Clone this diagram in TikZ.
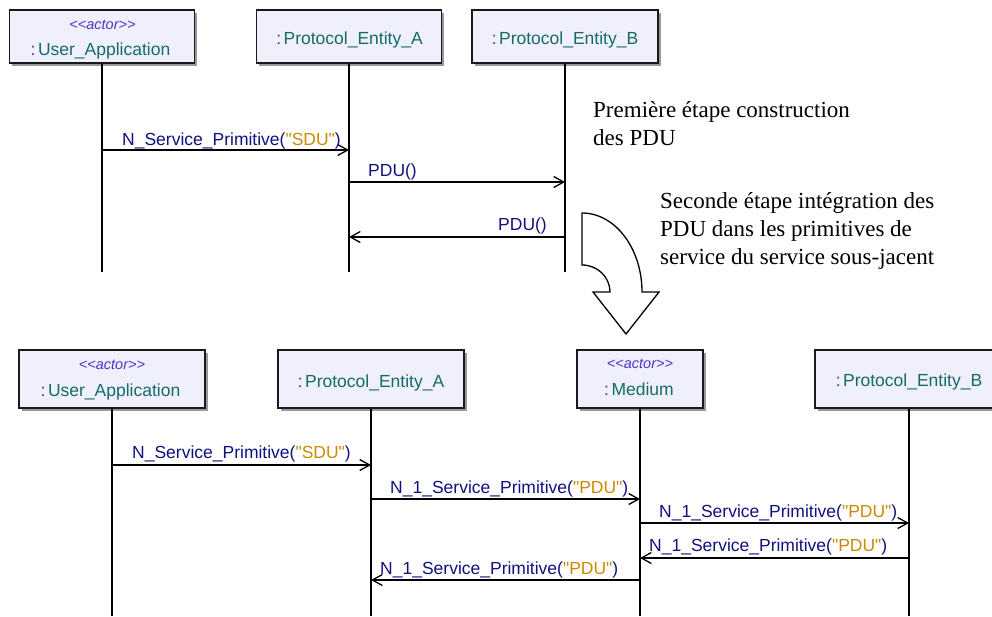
\documentclass[tikz,border=0pt]{standalone}
\usepackage{fontspec}
\setmainfont{Liberation Serif}
\newfontfamily\umlfont{Liberation Sans}
\usetikzlibrary{arrows.meta,shadows}

\definecolor{msgblue}{RGB}{16,16,128}
\definecolor{strgold}{RGB}{204,138,0}
\definecolor{nameteal}{RGB}{22,106,106}
\definecolor{colonpurple}{RGB}{80,40,180}
\definecolor{stereoblue}{RGB}{80,50,200}
\definecolor{boxfill}{RGB}{240,240,252}

% colon + instance name inside a lifeline head
\newcommand{\instname}[1]{{\color{colonpurple}:}\hspace{2.5pt}{\color{nameteal}#1}}
\newcommand{\stereoactor}{{\color{stereoblue}\itshape <{}<actor>{}>}}
\newcommand{\strarg}[1]{{\color{strgold}"#1"}}

\tikzset{
  headbox/.style={draw=black!90, line width=1.6pt, fill=boxfill, rectangle,
    inner sep=0pt,
    general shadow={fill=black!40, shadow xshift=2.5pt, shadow yshift=-2.5pt}},
  nametext/.style={anchor=base, inner sep=0pt, font=\umlfont\fontsize{17.5}{21}\selectfont},
  stereotext/.style={anchor=base, inner sep=0pt, font=\umlfont\fontsize{14.5}{17}\selectfont},
  lifeline/.style={line width=1.3pt, black},
  msg/.style={line width=1.3pt, black,
    -{Straight Barb[length=10pt,width=11pt,line width=1.3pt]}},
  msglabel/.style={inner sep=0pt, text=msgblue, font=\umlfont\fontsize{17.5}{21}\selectfont},
  % multi-line notes: the base anchor sits on the last line
  notetext/.style={anchor=base west, inner sep=0pt, align=left,
    font=\fontsize{23}{27.6}\selectfont},
  bigarrow/.style={draw=black, line width=1.3pt, fill=white, line join=miter}
}

\begin{document}
\begin{tikzpicture}[x=1pt,y=-1pt]
\useasboundingbox (0,0) rectangle (992,616);

% ---------- first stage: lifeline heads ----------
\node[headbox, minimum width=185, minimum height=53] (tua) at (102,36.5) {};
\node[headbox, minimum width=185, minimum height=53] (tpa) at (349,36.5) {};
\node[headbox, minimum width=186, minimum height=53] (tpb) at (565,36.5) {};

\node[stereotext] (tuas) at (102.5,29) {\stereoactor};
\node[nametext] (tuan) at (100.5,55) {\instname{User\_Application}};
\node[nametext] (tpan) at (349.5,44) {\instname{Protocol\_Entity\_A}};
\node[nametext] (tpbn) at (565,44) {\instname{Protocol\_Entity\_B}};

% lifeline ends
\coordinate (tua-e) at (102,272);
\coordinate (tpa-e) at (349,272);
\coordinate (tpb-e) at (565,272);
\draw[lifeline] (tua.south) -- (tua-e);
\draw[lifeline] (tpa.south) -- (tpa-e);
\draw[lifeline] (tpb.south) -- (tpb-e);

% message rows
\coordinate (r1) at (0,150);
\coordinate (r2) at (0,182);
\coordinate (r3) at (0,237);
\draw[msg] (tua |- r1) -- (tpa |- r1);
\draw[msg] (tpa |- r2) -- (tpb |- r2);
\draw[msg] (tpb |- r3) -- (tpa |- r3);

\node[msglabel, anchor=base west] (l1) at (122,145) {N\_Service\_Primitive(\strarg{SDU})};
\node[msglabel, anchor=base west] (l2) at (368,176.5) {PDU()};
\node[msglabel, anchor=base east] (l3) at (547,230.5) {PDU()};

% ---------- notes ----------
\node[notetext] (note1) at (593,145.5) {Première étape construction\\des PDU};
\node[notetext] (note2) at (660,264) {Seconde étape intégration des\\PDU dans les primitives de\\service du service sous-jacent};

% ---------- curved transition arrow ----------
\draw[bigarrow] (582,213) .. controls (615.1,213) and (642,248.4) .. (642,292)
  -- (659,292) -- (626,334) -- (593,292) -- (610,292)
  .. controls (610,277.1) and (597.5,265) .. (582,265) -- cycle;

% ---------- second stage: lifeline heads ----------
\node[headbox, minimum width=186, minimum height=58] (bua) at (112,379) {};
\node[headbox, minimum width=186, minimum height=58] (bpa) at (371,379) {};
\node[headbox, minimum width=126, minimum height=58] (bmd) at (640,379) {};
\node[headbox, minimum width=188, minimum height=58] (bpb) at (909,379) {};

\node[stereotext] (buas) at (112,369) {\stereoactor};
\node[nametext] (buan) at (110.5,396) {\instname{User\_Application}};
\node[nametext] (bpan) at (371,387) {\instname{Protocol\_Entity\_A}};
\node[stereotext] (bmds) at (640,368.5) {\stereoactor};
\node[nametext] (bmdn) at (639,395.5) {\instname{Medium}};
\node[nametext] (bpbn) at (909,386.5) {\instname{Protocol\_Entity\_B}};

\coordinate (bua-e) at (112,616);
\coordinate (bpa-e) at (371,616);
\coordinate (bmd-e) at (640,616);
\coordinate (bpb-e) at (909,616);
\draw[lifeline] (bua.south) -- (bua-e);
\draw[lifeline] (bpa.south) -- (bpa-e);
\draw[lifeline] (bmd.south) -- (bmd-e);
\draw[lifeline] (bpb.south) -- (bpb-e);

\coordinate (s1) at (0,465);
\coordinate (s2) at (0,499);
\coordinate (s3) at (0,523);
\coordinate (s4) at (0,558);
\coordinate (s5) at (0,580);
\draw[msg] (bua |- s1) -- (bpa |- s1);
\draw[msg] (bpa |- s2) -- (bmd |- s2);
\draw[msg] (bmd |- s3) -- (bpb |- s3);
\draw[msg] (bpb |- s4) -- (bmd |- s4);
\draw[msg] (bmd |- s5) -- (bpa |- s5);

\node[msglabel, anchor=base west] (k1) at (132,458) {N\_Service\_Primitive(\strarg{SDU})};
\node[msglabel, anchor=base west] (k2) at (390,493) {N\_1\_Service\_Primitive(\strarg{PDU})};
\node[msglabel, anchor=base west] (k3) at (659,517) {N\_1\_Service\_Primitive(\strarg{PDU})};
\node[msglabel, anchor=base west] (k4) at (649,551) {N\_1\_Service\_Primitive(\strarg{PDU})};
\node[msglabel, anchor=base west] (k5) at (380,574) {N\_1\_Service\_Primitive(\strarg{PDU})};
\end{tikzpicture}
\end{document}
